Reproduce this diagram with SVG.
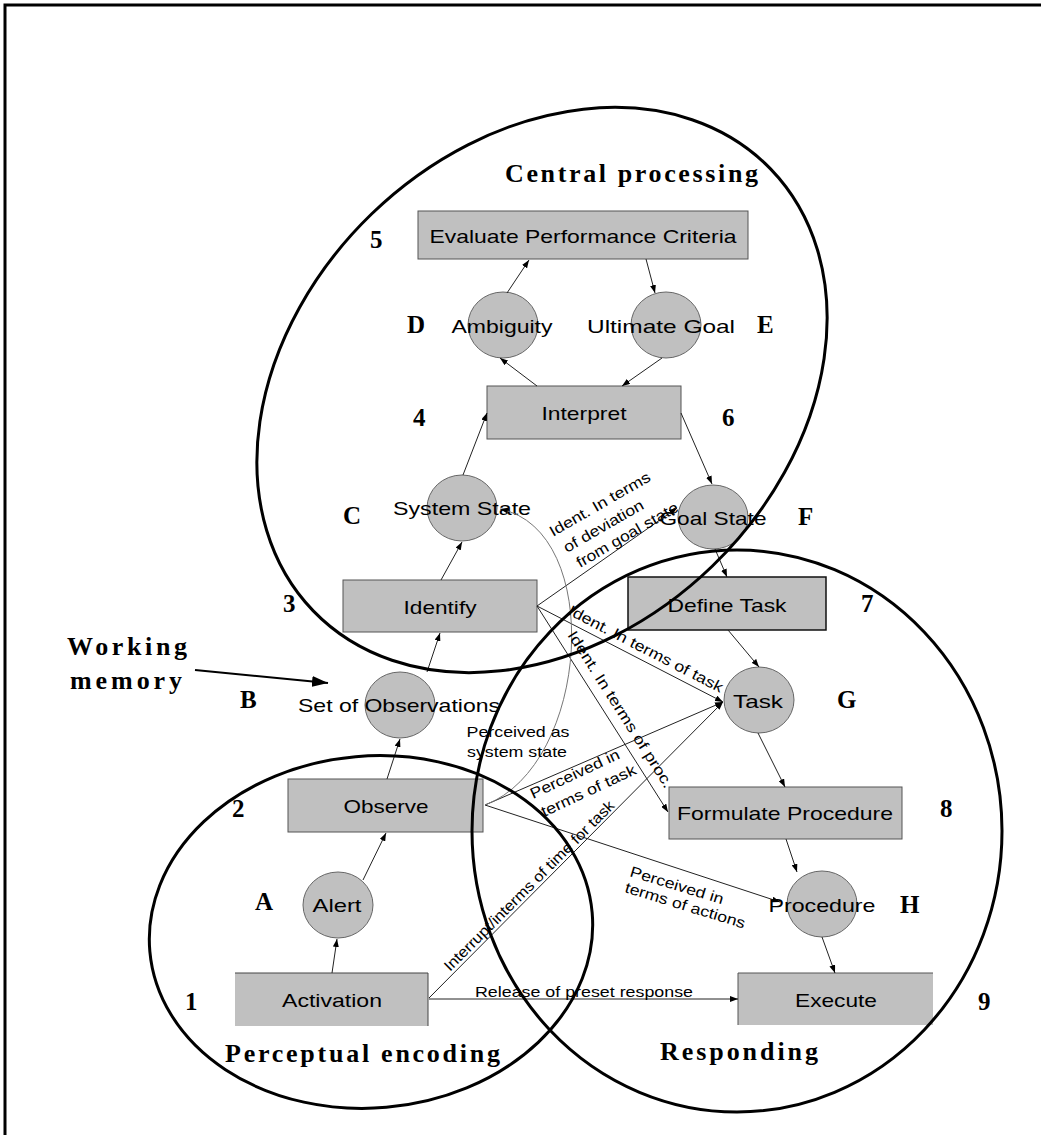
<svg xmlns="http://www.w3.org/2000/svg" width="1041" height="1135" viewBox="0 0 1041 1135">
<style>
.box{fill:#c0c0c0;stroke:#555;stroke-width:1}
.oval{fill:#c0c0c0;stroke:#666;stroke-width:1}
.n{font-family:"Liberation Sans",Arial,sans-serif;font-size:19px;text-anchor:middle;fill:#000}
.l{font-family:"Liberation Sans",Arial,sans-serif;font-size:15px;fill:#000}
.b{font-family:"Liberation Serif","Times New Roman",serif;font-weight:bold;font-size:25px;fill:#000}
.t{font-family:"Liberation Serif","Times New Roman",serif;font-weight:bold;font-size:26px;fill:#000}
.c{fill:none;stroke:#222;stroke-width:1;marker-end:url(#ah)}
.big{fill:none;stroke:#000;stroke-width:3}
</style>
<defs>
<marker id="ah" markerWidth="8" markerHeight="6" refX="8" refY="3" orient="auto" markerUnits="userSpaceOnUse"><path d="M0,0 L8,3 L0,6 z" fill="#000"/></marker>
<marker id="bah" markerWidth="16" markerHeight="11" refX="16" refY="5.5" orient="auto" markerUnits="userSpaceOnUse"><path d="M0,0 L16,5.5 L0,11 z" fill="#000"/></marker>
</defs>
<rect width="1041" height="1135" fill="#fff"/>
<path d="M5,1135 V5 H1041" fill="none" stroke="#000" stroke-width="3"/>

<g id="n5"><rect class="box" x="418" y="211" width="330" height="48"/><text class="n" x="583" y="243" textLength="307" lengthAdjust="spacingAndGlyphs">Evaluate Performance Criteria</text></g>
<g id="nD"><ellipse class="oval" cx="503" cy="325" rx="35" ry="33"/><text class="n" x="502" y="333" textLength="101" lengthAdjust="spacingAndGlyphs">Ambiguity</text></g>
<g id="nE"><ellipse class="oval" cx="666" cy="325" rx="35" ry="33"/><text class="n" x="661" y="333" textLength="148" lengthAdjust="spacingAndGlyphs">Ultimate Goal</text></g>
<g id="n4"><rect class="box" x="487" y="386" width="194" height="53"/><text class="n" x="584" y="420" textLength="85" lengthAdjust="spacingAndGlyphs">Interpret</text></g>
<g id="nC"><ellipse class="oval" cx="462" cy="508" rx="35" ry="33"/><text class="n" x="462" y="515" textLength="138" lengthAdjust="spacingAndGlyphs">System State</text></g>
<g id="nF"><ellipse class="oval" cx="713" cy="517" rx="35" ry="32"/><text class="n" x="713" y="525" textLength="107" lengthAdjust="spacingAndGlyphs">Goal State</text></g>
<g id="n3"><rect class="box" x="343" y="580" width="194" height="52"/><text class="n" x="440" y="614" textLength="73" lengthAdjust="spacingAndGlyphs">Identify</text></g>
<g id="n7"><rect x="628" y="577" width="198" height="53" fill="#c0c0c0" stroke="#111" stroke-width="1.5"/><text class="n" x="727" y="612" textLength="119" lengthAdjust="spacingAndGlyphs">Define Task</text></g>
<g id="nB"><ellipse class="oval" cx="400" cy="705" rx="35" ry="33"/><text class="n" x="399" y="712" textLength="202" lengthAdjust="spacingAndGlyphs">Set of Observations</text></g>
<g id="nG"><ellipse class="oval" cx="759" cy="700" rx="35" ry="33"/><text class="n" x="758" y="708" textLength="50" lengthAdjust="spacingAndGlyphs">Task</text></g>
<g id="n2"><rect class="box" x="288" y="779" width="195" height="53"/><text class="n" x="386" y="813" textLength="85" lengthAdjust="spacingAndGlyphs">Observe</text></g>
<g id="n8"><rect class="box" x="669" y="787" width="233" height="52"/><text class="n" x="785" y="820" textLength="216" lengthAdjust="spacingAndGlyphs">Formulate Procedure</text></g>
<g id="nA"><ellipse class="oval" cx="338" cy="905" rx="35" ry="33"/><text class="n" x="337" y="912" textLength="49" lengthAdjust="spacingAndGlyphs">Alert</text></g>
<g id="nH"><ellipse class="oval" cx="822" cy="904" rx="35" ry="33"/><text class="n" x="822" y="912" textLength="107" lengthAdjust="spacingAndGlyphs">Procedure</text></g>
<g id="n1"><rect x="235" y="973" width="193" height="53" fill="#c0c0c0"/><path d="M235,973 H428 V1026" fill="none" stroke="#444" stroke-width="1"/><text class="n" x="332" y="1007" textLength="100" lengthAdjust="spacingAndGlyphs">Activation</text></g>
<g id="n9"><rect x="738" y="973" width="195" height="52" fill="#c0c0c0"/><path d="M738,1025 V973 H933" fill="none" stroke="#555" stroke-width="1"/><text class="n" x="836" y="1007" textLength="82" lengthAdjust="spacingAndGlyphs">Execute</text></g>

<g id="connectors">
<path class="c" d="M332,973 L337,939"/>
<path class="c" d="M363,880 L386,833"/>
<path class="c" d="M387,779 L400,739"/>
<path class="c" d="M427,672 L440,633"/>
<path class="c" d="M441,580 L462,542"/>
<path class="c" d="M463,475 L487,413"/>
<path class="c" d="M537,386 L500,358"/>
<path class="c" d="M507,293 L529,260"/>
<path class="c" d="M646,259 L655,293"/>
<path class="c" d="M662,358 L622,386"/>
<path class="c" d="M681,413 L712,484"/>
<path class="c" d="M715,549 L727,577"/>
<path class="c" d="M728,630 L759,667"/>
<path class="c" d="M758,733 L785,787"/>
<path class="c" d="M786,839 L797,872"/>
<path class="c" d="M822,937 L835,973"/>
<path class="c" d="M537,606 L677,508"/>
<path class="c" d="M537,606 L723,702"/>
<path class="c" d="M537,606 L668,812"/>
<path class="c" d="M485,805 L723,702"/>
<path class="c" d="M485,805 L780,902"/>
<path d="M485,805 C590,765 605,530 500,509" fill="none" stroke="#777" stroke-width="1" marker-end="url(#ah)"/>
<path class="c" d="M429,998 L723,702"/>
<path class="c" d="M429,999 L738,999"/>
<path d="M195,670 L328,683" fill="none" stroke="#000" stroke-width="2" marker-end="url(#bah)"/>
<text class="l" x="518" y="737" text-anchor="middle" textLength="103" lengthAdjust="spacingAndGlyphs">Perceived as</text>
<text class="l" x="517" y="757" text-anchor="middle" textLength="100" lengthAdjust="spacingAndGlyphs">system state</text>
<text class="l" x="475" y="997" textLength="218" lengthAdjust="spacingAndGlyphs">Release of preset response</text>
<text class="l" x="553" y="537" transform="rotate(-30 553 537)" textLength="114" lengthAdjust="spacingAndGlyphs">Ident. In terms</text>
<text class="l" x="567" y="553" transform="rotate(-30 567 553)" textLength="90" lengthAdjust="spacingAndGlyphs">of deviation</text>
<text class="l" x="580" y="568" transform="rotate(-30 580 568)" textLength="115" lengthAdjust="spacingAndGlyphs">from goal state</text>
<text class="l" x="567" y="614" transform="rotate(27.3 567 614)" textLength="172" lengthAdjust="spacingAndGlyphs">Ident. In terms of task</text>
<text class="l" x="567" y="635" transform="rotate(57.5 567 635)" textLength="183" lengthAdjust="spacingAndGlyphs">Ident. In terms of proc.</text>
<text class="l" x="533" y="799" transform="rotate(-25 533 799)" textLength="97" lengthAdjust="spacingAndGlyphs">Perceived in</text>
<text class="l" x="544" y="817" transform="rotate(-25 544 817)" textLength="103" lengthAdjust="spacingAndGlyphs">terms of task</text>
<text class="l" x="450" y="972" transform="rotate(-45 450 972)" textLength="234" lengthAdjust="spacingAndGlyphs">Interrupt/interms of time for task</text>
<text class="l" x="629" y="876" transform="rotate(17 629 876)" textLength="97" lengthAdjust="spacingAndGlyphs">Perceived in</text>
<text class="l" x="624" y="892" transform="rotate(17 624 892)" textLength="125" lengthAdjust="spacingAndGlyphs">terms of actions</text>
</g>

<g id="regions">
<ellipse class="big" cx="542" cy="390" rx="318" ry="245" transform="rotate(-44 542 390)"/>
<ellipse class="big" cx="737" cy="831" rx="265" ry="281"/>
<ellipse class="big" cx="371" cy="932" rx="222" ry="176" transform="rotate(-5 371 932)"/>
<text class="t" x="505" y="182" textLength="253" lengthAdjust="spacing">Central processing</text>
<text class="t" x="225" y="1062" textLength="275" lengthAdjust="spacing">Perceptual encoding</text>
<text class="t" x="660" y="1060" textLength="158" lengthAdjust="spacing">Responding</text>
<text class="t" x="67" y="655" font-size="27" textLength="120" lengthAdjust="spacing">Working</text>
<text class="t" x="70" y="689" font-size="27" textLength="112" lengthAdjust="spacing">memory</text>
</g>

<g id="labels">
<text class="b" x="370" y="248">5</text>
<text class="b" x="407" y="333">D</text>
<text class="b" x="757" y="333">E</text>
<text class="b" x="413" y="426">4</text>
<text class="b" x="722" y="426">6</text>
<text class="b" x="343" y="524">C</text>
<text class="b" x="798" y="525">F</text>
<text class="b" x="283" y="612">3</text>
<text class="b" x="861" y="612">7</text>
<text class="b" x="240" y="708">B</text>
<text class="b" x="837" y="708">G</text>
<text class="b" x="232" y="817">2</text>
<text class="b" x="940" y="817">8</text>
<text class="b" x="255" y="910">A</text>
<text class="b" x="900" y="913">H</text>
<text class="b" x="185" y="1010">1</text>
<text class="b" x="978" y="1010">9</text>
</g>
</svg>
